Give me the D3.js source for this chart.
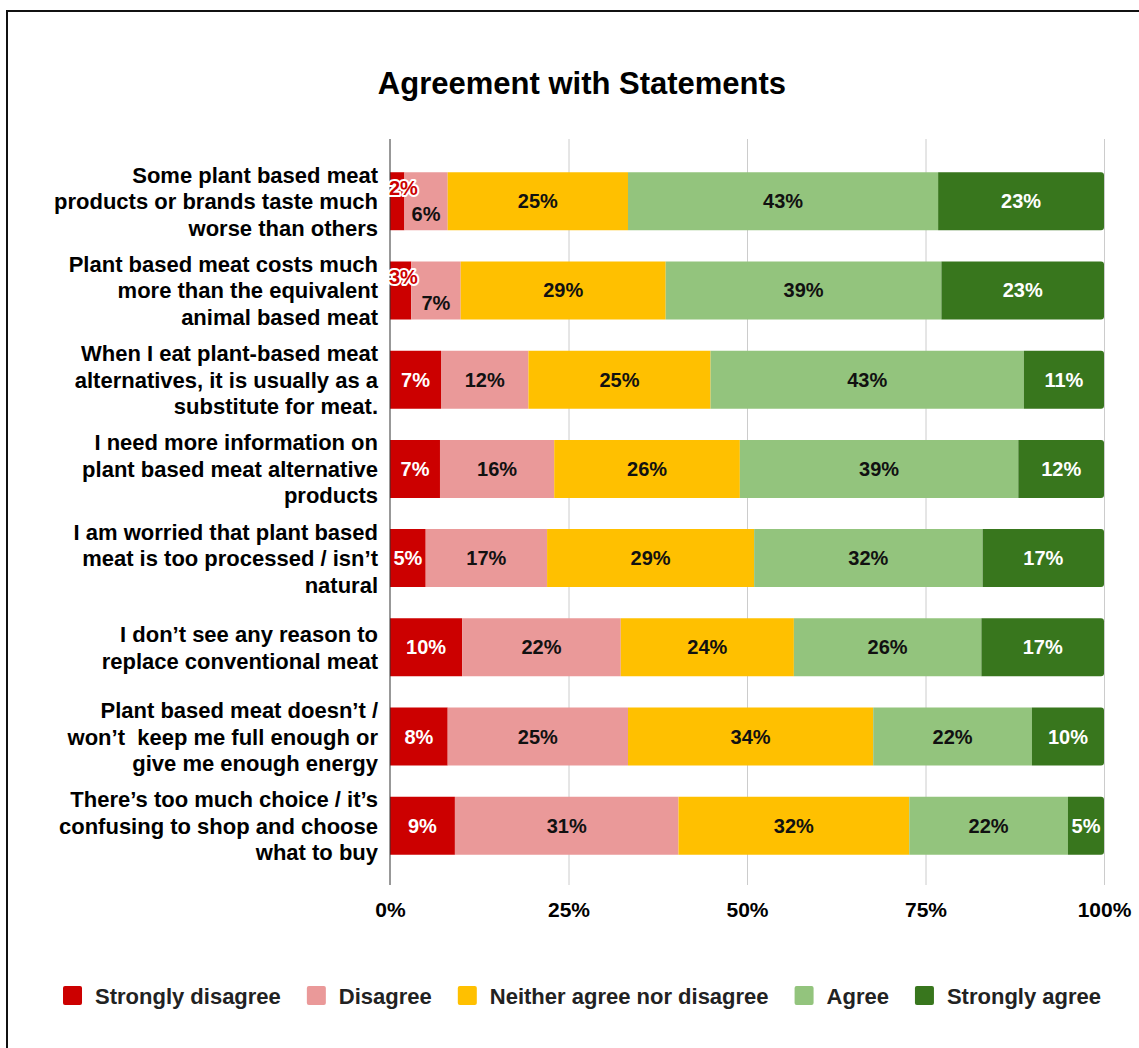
<!DOCTYPE html>
<html>
<head>
<meta charset="utf-8">
<script src="https://cdn.jsdelivr.net/npm/d3@7"></script>
<style>
  body { margin: 0; background: #fff; }
  svg { display: block; }
</style>
</head>
<body>
<svg id="chart" width="1139" height="1048"></svg>
<script>
// Survey statements (already wrapped into display lines)
const categories = [
  ["Some plant based meat", "products or brands taste much", "worse than others"],
  ["Plant based meat costs much", "more than the equivalent", "animal based meat"],
  ["When I eat plant-based meat", "alternatives, it is usually as a", "substitute for meat."],
  ["I need more information on", "plant based meat alternative", "products"],
  ["I am worried that plant based", "meat is too processed / isn’t", "natural"],
  ["I don’t see any reason to", "replace conventional meat"],
  ["Plant based meat doesn’t /", "won’t  keep me full enough or", "give me enough energy"],
  ["There’s too much choice / it’s", "confusing to shop and choose", "what to buy"]
];

const seriesNames = ["Strongly disagree", "Disagree", "Neither agree nor disagree", "Agree", "Strongly agree"];

// Percent of respondents per statement
const stronglyDisagree = [2, 3, 7, 7, 5, 10, 8, 9];
const disagree         = [6, 7, 12, 16, 17, 22, 25, 31];
const neither          = [25, 29, 25, 26, 29, 24, 34, 32];
const agree            = [43, 39, 43, 39, 32, 26, 22, 22];
const stronglyAgree    = [23, 23, 11, 12, 17, 17, 10, 5];

const xTicks = [0, 0.25, 0.5, 0.75, 1];
const xTickLabels = ["0%", "25%", "50%", "75%", "100%"];

const seriesColors = ["#cc0000", "#ea9999", "#ffc000", "#93c47d", "#38761d"];
const labelColors  = ["#ffffff", "#111111", "#111111", "#111111", "#ffffff"];

const seriesValues = [stronglyDisagree, disagree, neither, agree, stronglyAgree];

const rows = categories.map((lines, i) => {
  const r = { idx: i, lines };
  seriesNames.forEach((s, k) => { r[s] = seriesValues[k][i]; });
  return r;
});

const stacked = d3.stack()
  .keys(seriesNames)
  .offset(d3.stackOffsetExpand)(rows);

const svg = d3.select("#chart");

const SANS = "'Liberation Sans', Arial, sans-serif";

// outer frame
svg.append("rect")
  .attr("x", 7).attr("y", 11)
  .attr("width", 1300).attr("height", 1200)
  .attr("fill", "none").attr("stroke", "#111").attr("stroke-width", 2);

const plotTop = 139, plotBottom = 885;

const x = d3.scaleLinear().domain([0, 1]).range([390, 1104]);
const y = d3.scaleBand()
  .domain(d3.range(categories.length))
  .range([141, 886])
  .paddingInner(0.35)
  .paddingOuter(0.35);

// title
svg.append("text")
  .attr("x", 582).attr("y", 94)
  .attr("text-anchor", "middle")
  .style("font-family", SANS).style("font-weight", "bold").style("font-size", "31px")
  .attr("fill", "#000")
  .text("Agreement with Statements");

// vertical gridlines
const gridAxis = d3.axisBottom(x)
  .tickValues(xTicks.slice(1))
  .tickSize(-(plotBottom - plotTop))
  .tickFormat("");
const grid = svg.append("g")
  .attr("transform", `translate(0,${plotBottom})`)
  .call(gridAxis);
grid.select(".domain").remove();
grid.selectAll(".tick line").attr("stroke", "#cccccc").attr("stroke-width", 1);

// x tick labels
const labelAxis = d3.axisBottom(x)
  .tickValues(xTicks)
  .tickSize(0)
  .tickPadding(0)
  .tickFormat((d, i) => xTickLabels[i]);
const xa = svg.append("g")
  .attr("transform", `translate(0,${plotBottom})`)
  .call(labelAxis);
xa.select(".domain").remove();
xa.selectAll(".tick text")
  .attr("y", 32).attr("dy", null)
  .style("font-family", SANS).style("font-weight", "bold").style("font-size", "21px")
  .attr("fill", "#000");

// bars
const radius = 3;
function segPath(x0, x1, y0, h, roundRight) {
  if (!roundRight) return `M${x0},${y0}H${x1}V${y0 + h}H${x0}Z`;
  const r = Math.min(radius, (x1 - x0));
  return `M${x0},${y0}H${x1 - r}A${r},${r} 0 0 1 ${x1},${y0 + r}V${y0 + h - r}A${r},${r} 0 0 1 ${x1 - r},${y0 + h}H${x0}Z`;
}

const layers = svg.append("g").selectAll("g")
  .data(stacked)
  .join("g")
  .attr("fill", (d, k) => seriesColors[k]);

layers.selectAll("path")
  .data(d => d.map(v => ({ v, key: d.key, k: d.index })))
  .join("path")
  .attr("d", d => segPath(x(d.v[0]), x(d.v[1]), y(d.v.data.idx), y.bandwidth(), d.k === seriesNames.length - 1));

// vertical axis line at 0%
svg.append("line")
  .attr("x1", x(0)).attr("x2", x(0))
  .attr("y1", plotTop).attr("y2", plotBottom)
  .attr("stroke", "#333").attr("stroke-width", 1);

// value labels
const labelG = svg.append("g");
rows.forEach((row, i) => {
  const cy = y(i) + y.bandwidth() / 2;
  let pushDown = false;
  stacked.forEach((layer, k) => {
    const seg = layer[i];
    const x0 = x(seg[0]), x1 = x(seg[1]);
    const w = x1 - x0;
    const t = labelG.append("text")
      .attr("text-anchor", "middle")
      .style("font-family", SANS).style("font-weight", "bold").style("font-size", "20px")
      .text(seriesValues[k][i] + "%");
    const tw = t.node().getComputedTextLength();
    let cx = (x0 + x1) / 2;
    let dyOff = 0;
    if (tw > w - 4) {
      // too narrow: lift above the centre, halo it, keep inside the plot
      cx = Math.max(cx, x(0) + tw / 2 - 1);
      dyOff = -13;
      t.attr("fill", seriesColors[k])
        .attr("stroke", "#fff").attr("stroke-width", 4)
        .attr("stroke-linejoin", "round")
        .style("paint-order", "stroke");
      pushDown = true;
    } else {
      t.attr("fill", labelColors[k]);
      if (pushDown) { dyOff = 13; pushDown = false; }
    }
    t.attr("x", cx).attr("y", cy + 7 + dyOff);
  });
});

// category labels
const catG = svg.append("g");
rows.forEach((row, i) => {
  const cy = y(i) + y.bandwidth() / 2;
  const n = row.lines.length;
  row.lines.forEach((line, j) => {
    catG.append("text")
      .attr("x", 378)
      .attr("y", cy + (j - (n - 1) / 2) * 26.5 + 8)
      .attr("text-anchor", "end")
      .attr("xml:space", "preserve")
      .style("white-space", "pre")
      .style("font-family", SANS).style("font-weight", "bold").style("font-size", "22px")
      .attr("fill", "#000")
      .text(line);
  });
});

// legend
const legend = svg.append("g");
let lx = 0;
const items = [];
seriesNames.forEach((name, k) => {
  const g = legend.append("g");
  g.append("rect")
    .attr("x", 0).attr("y", -10).attr("width", 19).attr("height", 19)
    .attr("rx", 2).attr("fill", seriesColors[k]);
  const t = g.append("text")
    .attr("x", 32).attr("y", 8)
    .style("font-family", SANS).style("font-weight", "bold").style("font-size", "22px")
    .attr("fill", "#222")
    .text(name);
  const tw = t.node().getComputedTextLength();
  items.push({ g, width: 32 + tw });
});
const gap = 26;
const total = d3.sum(items, d => d.width) + gap * (items.length - 1);
lx = 582 - total / 2;
items.forEach(it => {
  it.g.attr("transform", `translate(${lx},996)`);
  lx += it.width + gap;
});
</script>
</body>
</html>
